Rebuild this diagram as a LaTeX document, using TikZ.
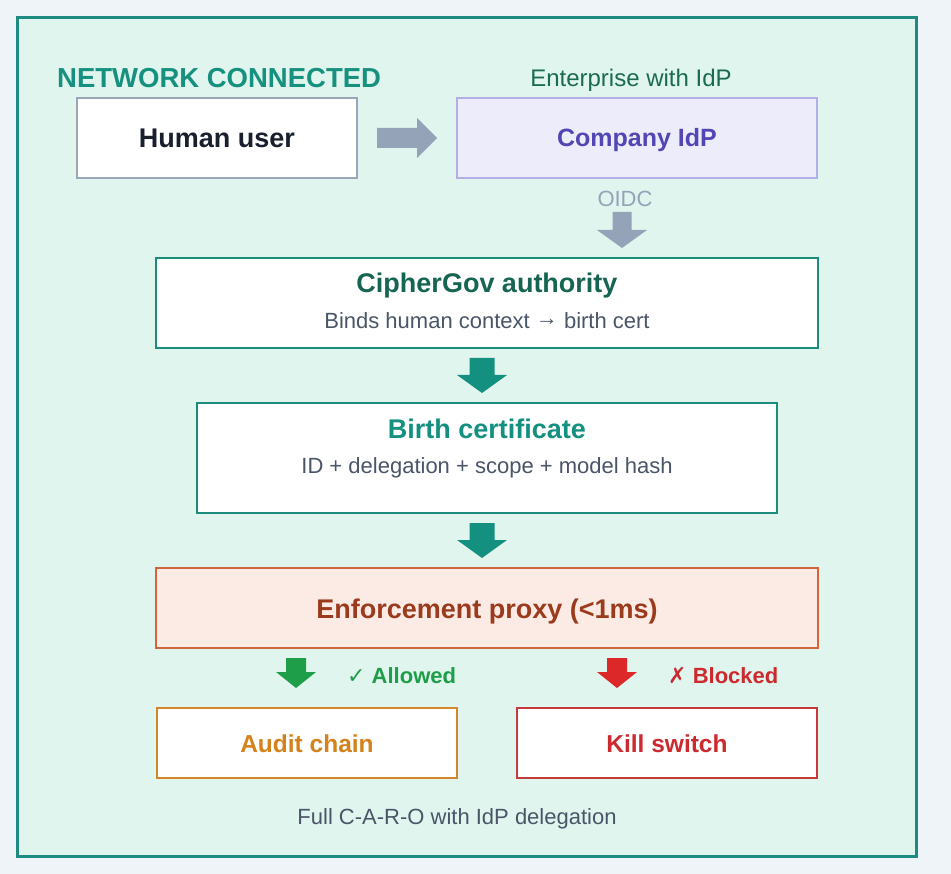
\documentclass[tikz,border=0pt]{standalone}
\usepackage{fontspec}
\setmainfont{Liberation Sans}
\newfontfamily\symf{DejaVu Sans}
\definecolor{bgc}{HTML}{EFF4F8}
\definecolor{zonefill}{HTML}{E0F5EE}
\definecolor{zoneline}{HTML}{1E8B80}
\definecolor{netc}{HTML}{16907F}
\definecolor{dark}{HTML}{1A1F2E}
\definecolor{grayline}{HTML}{9AA6B8}
\definecolor{grayarr}{HTML}{95A3B8}
\definecolor{idpfill}{HTML}{EDECFB}
\definecolor{idpline}{HTML}{B4AEE6}
\definecolor{idptext}{HTML}{5246B4}
\definecolor{entc}{HTML}{1A6B52}
\definecolor{cgtext}{HTML}{166552}
\definecolor{teal}{HTML}{13907F}
\definecolor{tealline}{HTML}{1C8C7C}
\definecolor{subc}{HTML}{4A5568}
\definecolor{enffill}{HTML}{FCEBE5}
\definecolor{enfline}{HTML}{D2653E}
\definecolor{enftext}{HTML}{9B3B1D}
\definecolor{okc}{HTML}{1E9E48}
\definecolor{badc}{HTML}{DC2828}
\definecolor{badtext}{HTML}{CC2A2E}
\definecolor{auditline}{HTML}{D4862A}
\definecolor{audittext}{HTML}{D4821C}
\definecolor{killline}{HTML}{C53A3A}
% block arrow down: color, cx, top, shaft width, shaft length, head width, head length
\newcommand{\bdown}[7]{%
  \fill[#1] (#2-#4/2,#3) -- ++(#4,0) -- ++(0,#5) -- ++(#6/2-#4/2,0)
    -- (#2,#3+#5+#7) -- (#2-#6/2,#3+#5) -- ++(#6/2-#4/2,0) -- cycle;}
\begin{document}
\begin{tikzpicture}[x=1pt,y=-1pt,
  box/.style={draw, rectangle, inner sep=0pt, line width=2pt},
  tbig/.style={font=\fontsize{27pt}{32pt}\selectfont\bfseries, inner sep=0pt, anchor=base},
  tmid/.style={font=\fontsize{24.5pt}{29pt}\selectfont\bfseries, inner sep=0pt, anchor=base},
  tsub/.style={font=\fontsize{22pt}{26pt}\selectfont, inner sep=0pt, anchor=base, text=subc},
  tlab/.style={font=\fontsize{22pt}{26pt}\selectfont\bfseries, inner sep=0pt, anchor=base west}]
\fill[bgc] (0,0) rectangle (951,874);
\useasboundingbox (0,0) rectangle (951,874);
\draw[line width=3pt, draw=zoneline, fill=zonefill] (17,18) rectangle (916,856);

% header texts
\node[font=\fontsize{27.5pt}{32pt}\selectfont\bfseries, text=netc, inner sep=0pt, anchor=base west] (net) at (57,88) {NETWORK CONNECTED};
\node[font=\fontsize{24pt}{29pt}\selectfont, text=entc, inner sep=0pt, anchor=base] (ent) at (631,86.6) {Enterprise with IdP};

% boxes
\node[box, draw=grayline, fill=white, minimum width=280pt, minimum height=80pt] (human) at (217,138) {};
\node[box, draw=idpline, fill=idpfill, minimum width=360pt, minimum height=80pt] (idp) at (637,138) {};
\node[box, line width=2.5pt, draw=tealline, fill=white, minimum width=662pt, minimum height=90pt] (cg) at (487,303) {};
\node[box, line width=2.5pt, draw=tealline, fill=white, minimum width=580pt, minimum height=110pt] (bc) at (487,458) {};
\node[box, line width=2.5pt, draw=enfline, fill=enffill, minimum width=662pt, minimum height=80pt] (enf) at (487,608) {};
\node[box, draw=auditline, fill=white, minimum width=300pt, minimum height=70pt] (audit) at (307,743) {};
\node[box, draw=killline, fill=white, minimum width=300pt, minimum height=70pt] (kill) at (667,743) {};

% box texts
\node[tbig, text=dark] (humant) at (217,147.7) {Human user};
\node[font=\fontsize{25pt}{30pt}\selectfont\bfseries, inner sep=0pt, anchor=base, text=idptext] (idpt) at (637,147) {Company IdP};
\node[tbig, text=cgtext] (cgt) at (487,292.5) {CipherGov authority};
\node[tsub] (cgs) at (487,328.5) {Binds human context \raisebox{2.5pt}{→} birth cert};
\node[tbig, text=teal] (bct) at (487,438.5) {Birth certificate};
\node[tsub] (bcs) at (487,474) {ID + delegation + scope + model hash};
\node[tbig, text=enftext] (enft) at (487,618) {Enforcement proxy (<1ms)};
\node[tmid, text=audittext] (auditt) at (307,752) {Audit chain};
\node[tmid, text=badtext] (killt) at (667,752) {Kill switch};

% connector labels
\node[font=\fontsize{22pt}{26pt}\selectfont, text=grayarr, inner sep=0pt, anchor=base] (oidc) at (625,207) {OIDC};
\node[tlab, text=okc] (allow) at (347,683) {{\symf ✓} Allowed};
\node[tlab, text=badtext] (block) at (668,683) {{\symf ✗} Blocked};
\node[tsub] (foot) at (457,824) {Full C-A-R-O with IdP delegation};

% block arrows
\fill[grayarr] (377,128) -- (417,128) -- (417,118) -- (437,138) -- (417,158) -- (417,148) -- (377,148) -- cycle;
\bdown{grayarr}{622}{212}{19}{18}{50}{18}
\bdown{teal}{482}{358}{25}{17}{50}{18}
\bdown{teal}{482}{523}{25}{17}{50}{18}
\bdown{okc}{296}{658}{20}{14}{40}{16}
\bdown{badc}{617}{658}{20}{14}{40}{16}
\end{tikzpicture}
\end{document}
